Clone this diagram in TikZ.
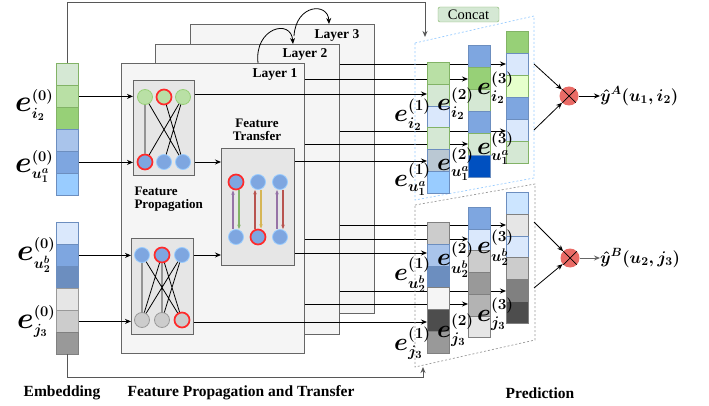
\RequirePackage{fix-cm}
\documentclass[tikz,border=0pt]{standalone}
\usepackage{amsmath}
\usepackage[no-math]{fontspec}
\setmainfont{Liberation Serif}
\usetikzlibrary{arrows.meta,calc}

% palette
\definecolor{gA}{HTML}{D5E8D4}
\definecolor{gB}{HTML}{B9E0A5}
\definecolor{gC}{HTML}{97D077}
\definecolor{gS}{HTML}{82B366}
\definecolor{bA}{HTML}{DAE8FC}
\definecolor{bB}{HTML}{A9C4EB}
\definecolor{bC}{HTML}{7EA6E0}
\definecolor{bD}{HTML}{6C8EBF}
\definecolor{bE}{HTML}{99CCFF}
\definecolor{bF}{HTML}{0050C0}
\definecolor{bG}{HTML}{BAC8D3}
\definecolor{bH}{HTML}{CCE5FF}
\definecolor{yA}{HTML}{E6FFCC}
\definecolor{kA}{HTML}{F5F5F5}
\definecolor{kB}{HTML}{E6E6E6}
\definecolor{kC}{HTML}{CCCCCC}
\definecolor{kD}{HTML}{B3B3B3}
\definecolor{kE}{HTML}{999999}
\definecolor{kF}{HTML}{808080}
\definecolor{kG}{HTML}{4D4D4D}
\definecolor{frame}{HTML}{666666}
\definecolor{multc}{HTML}{EA6B66}
\definecolor{hot}{HTML}{FF2A2A}
\definecolor{tPurple}{HTML}{9673A6}
\definecolor{tGreen}{HTML}{82B366}
\definecolor{tRed}{HTML}{B85450}
\definecolor{tYellow}{HTML}{D6B656}

% a column of six embedding cells: name, left x, top y, cell height, fill/stroke list
\newcommand{\cellstack}[5]{%
  \pgfmathsetmacro{\stackh}{6*#4}%
  \node[inner sep=0, minimum width=22pt, minimum height={\stackh pt}, anchor=north west] (#1) at (#2,#3) {};
  \foreach \fc/\sc [count=\k from 0] in {#5} {
    \node[cell, fill=\fc, draw=\sc, minimum height={#4pt}, anchor=north west] (#1-\k) at (#2,{#3+\k*#4}) {};
  }%
}
% embedding symbol: size of e, script base size, layer index, subscript
% (grouped so the bold math version stays local)
\newcommand{\elab}[4]{{\fontsize{#2}{#2}\selectfont\boldmath$\mbox{\fontsize{#1}{#1}\selectfont$e$}^{(#3)}_{#4}$}}
\newcommand{\boldeq}[1]{{\boldmath$#1$}}

\begin{document}
\begin{tikzpicture}[x=1pt,y=-1pt,
  cell/.style={rectangle, inner sep=0, minimum width=22pt, line width=0.8pt},
  layer/.style={rectangle, draw=frame, fill=kA, line width=0.9pt, inner sep=0, anchor=north west},
  box/.style={rectangle, draw=frame, fill=kB, line width=0.9pt, inner sep=0, anchor=north west},
  nd/.style={circle, inner sep=0, minimum size=15pt, line width=0.8pt},
  ndG/.style={nd, fill=gB, draw=gC},
  ndB/.style={nd, fill=bC, draw=bE},
  ndK/.style={nd, fill=kC, draw=kE},
  hotring/.style={draw=hot, line width=1.7pt},
  arr/.style={-{Stealth[length=6pt,width=5pt]}, line width=0.9pt},
  feed/.style={arr, draw=frame!85!black, line width=1pt},
  tr/.style={-{Stealth[length=4.5pt,width=3.5pt]}, line width=1.2pt},
  lyrtext/.style={font={\fontsize{13.5}{15}\selectfont\bfseries}},
  subtext/.style={font={\fontsize{13}{15}\selectfont\bfseries}},
  captext/.style={font={\fontsize{15.5}{18}\selectfont\bfseries}},
  symb/.style={inner sep=0, anchor=base west},
  mult/.style={circle, fill=multc, minimum size=19pt, inner sep=0,
    path picture={\draw[line width=0.7pt] (path picture bounding box.north west) -- (path picture bounding box.south east)
      (path picture bounding box.north east) -- (path picture bounding box.south west);}}
]
\useasboundingbox (0,0) rectangle (709,406);

% ---------- stacked layers ----------
\node[layer, minimum width=184pt, minimum height=289pt] (L3) at (190,24) {};
\node[layer, minimum width=184pt, minimum height=290pt] (L2) at (155,44) {};
\node[layer, minimum width=183pt, minimum height=290pt] (L1) at (121,63) {};

\node[lyrtext] (t3) at (337,35) {Layer 3};
\node[lyrtext] (t2) at (305,54) {Layer 2};
\node[lyrtext] (t1) at (275,75) {Layer 1};

\coordinate (a1s) at (258,63);
\coordinate (a1e) at (293,44);
\coordinate (a2s) at (294,36);
\coordinate (a2e) at (329,24);
\draw[arr, line width=0.8pt] (a1s) .. controls (254,28) and (291,18) .. (a1e);
\draw[arr, line width=0.8pt] (a2s) .. controls (296,4) and (328,2) .. (a2e);

% ---------- feature propagation (upper) ----------
\node[box, minimum width=61pt, minimum height=95pt] (PA) at (133,80) {};
\node[ndG] (at1) at (145,97) {};
\node[ndG, hotring] (at2) at (164,97) {};
\node[ndG] (at3) at (183,97) {};
\node[ndB, hotring] (ab1) at (145,162) {};
\node[ndB] (ab2) at (164,162) {};
\node[ndB] (ab3) at (183,162) {};
\draw[line width=0.8pt] (at1) -- (ab1) (at1) -- (ab3) (at2) -- (ab3) (at3) -- (ab1) (at3) -- (ab2);

% ---------- feature propagation (lower) ----------
\node[box, minimum width=62pt, minimum height=96pt] (PB) at (131,238) {};
\node[ndB] (bt1) at (142,255) {};
\node[ndB, hotring] (bt2) at (162,255) {};
\node[ndB] (bt3) at (182,255) {};
\node[ndK] (bb1) at (142,320) {};
\node[ndK] (bb2) at (162,320) {};
\node[ndK, hotring] (bb3) at (182,320) {};
\draw[line width=0.8pt] (bt1) -- (bb1) (bt1) -- (bb3) (bt2) -- (bb1) (bt2) -- (bb2) (bt2) -- (bb3)
  (bt3) -- (bb1) (bt3) -- (bb2);

\node[subtext, align=left, anchor=west] (fpl) at (131,199) {Feature\\[-2pt]Propagation};

% ---------- feature transfer ----------
\node[subtext, align=center] (ftl) at (257,130) {Feature\\[-2pt]Transfer};
\node[box, minimum width=73pt, minimum height=117pt] (TB) at (221,148) {};
\node[ndB, hotring] (ct1) at (236,182) {};
\node[ndB] (ct2) at (258,182) {};
\node[ndB] (ct3) at (280,182) {};
\node[ndB] (cb1) at (236,237) {};
\node[ndB, hotring] (cb2) at (258,237) {};
\node[ndB] (cb3) at (280,237) {};
\draw[tr, draw=tPurple, fill=tPurple] ([xshift=-3pt]cb1.north) -- ([xshift=-3pt]ct1.south);
\draw[tr, draw=tGreen, fill=tGreen] ([xshift=3pt]ct1.south) -- ([xshift=3pt]cb1.north);
\draw[tr, draw=tRed, fill=tRed] ([xshift=-3pt]cb2.north) -- ([xshift=-3pt]ct2.south);
\draw[tr, draw=tYellow, fill=tYellow] ([xshift=3pt]ct2.south) -- ([xshift=3pt]cb2.north);
\draw[tr, draw=tPurple, fill=tPurple] ([xshift=-3pt]cb3.north) -- ([xshift=-3pt]ct3.south);
\draw[tr, draw=tRed, fill=tRed] ([xshift=3pt]ct3.south) -- ([xshift=3pt]cb3.north);

% ---------- embedding columns ----------
\cellstack{eA}{56}{63}{22}{gA/gS, gB/gS, gC/gS, bB/bD, bC/bD, bE/bD}
\cellstack{eB}{56}{222}{22}{bA/bD, bC/bD, bD/bD, kB/kE, kC/kE, kE/kF}

\draw[arr] (eA-1.east) -- (PA.west |- eA-1.east);
\draw[arr] (eA-4.east) -- (PA.west |- eA-4.east);
\draw[arr] (eB-1.east) -- (PB.west |- eB-1.east);
\draw[arr] (eB-4.east) -- (PB.west |- eB-4.east);
\draw[arr] (PA.east |- ab3) -- (TB.west |- ab3);
\draw[arr] (PB.east |- bt3) -- (TB.west |- bt3);

% concatenation targets
\coordinate (ctop) at (425,37);
\coordinate (cbot) at (423,367);
\draw[feed] (eA.north) -- ++(0,-60) -| (ctop);
\draw[feed] (eB.south) -- ++(0,23) -| (cbot);

% ---------- prediction columns (x positions for anchoring) ----------
\coordinate (c1x) at (427,0);
\coordinate (c2x) at (468,0);
\coordinate (c3x) at (506,0);

% layer outputs, upper pair
\draw[arr] (L2.east |- 0,64) -- (c3x |- 0,64);
\draw[arr] (L1.east |- 0,79) -- (c2x |- 0,79);
\draw[arr] (PA.east |- 0,94) -- (c1x |- 0,94);
\draw[arr] (L2.east |- 0,131) -- (c3x |- 0,131);
\draw[arr] (L1.east |- 0,144) -- (c2x |- 0,144);
\draw[arr] (TB.east |- 0,161) -- (c1x |- 0,161);
% layer outputs, lower pair
\draw[arr] (L2.east |- 0,225) -- (c3x |- 0,225);
\draw[arr] (L1.east |- 0,239) -- (c2x |- 0,239);
\draw[arr] (TB.east |- 0,253) -- (c1x |- 0,253);
\draw[arr] (L2.east |- 0,291) -- (c3x |- 0,291);
\draw[arr] (L1.east |- 0,304) -- (c2x |- 0,304);
\draw[arr] (PB.east |- 0,322) -- (c1x |- 0,322);

% concat frames
\draw[bE, dashed, dash pattern=on 2pt off 2pt, line width=0.7pt] (415,43) -- (534,16) -- (534,178) -- (415,200) -- cycle;
\draw[kE, dashed, dash pattern=on 2pt off 2pt, line width=0.7pt] (415,205) -- (535,184) -- (535,340) -- (415,367) -- cycle;
\node[draw=gS, fill=gA, rounded corners=2pt, minimum width=61pt, minimum height=15pt, inner sep=0,
  font={\fontsize{14.5}{15}\selectfont}] (concat) at (468.5,14.5) {Concat};

\cellstack{cA}{427}{62}{21.8}{gB/gS, gA/gS, bA/bD, gA/gS, bG/bD, bE/bD}
\cellstack{dA}{468}{45}{22}{bC/bD, gC/gS, gA/gS, bC/bD, gA/gS, bF/bD}
\cellstack{fA}{506}{31}{22}{gC/gS, bA/bD, yA/gS, bC/bD, bA/bD, gA/gS}
\cellstack{cB}{427}{222}{21.8}{kC/kF, bB/bD, bD/bD, kA/kF, kG/kF, kE/kF}
\cellstack{dB}{468}{207}{21.7}{bC/bD, bA/bD, kC/kF, kE/kF, kD/kF, kB/kF}
\cellstack{fB}{506}{192}{21.8}{bH/bD, kB/kF, bA/bD, kC/kF, kF/kF, kG/kF}

% ---------- symbols ----------
\node[symb] (s0a) at (15,112) {\elab{30}{21}{0}{i_2}};
\node[symb] (s0b) at (15,173) {\elab{30}{21}{0}{u_1^a}};
\node[symb] (s0c) at (17,260) {\elab{30}{21}{0}{u_2^b}};
\node[symb] (s0d) at (17,328) {\elab{30}{21}{0}{j_3}};

\node[symb] (s1a) at (394,122) {\elab{25}{22}{1}{i_2}};
\node[symb] (s1b) at (394,186) {\elab{25}{22}{1}{u_1^a}};
\node[symb] (s2a) at (437,111) {\elab{25}{22}{2}{i_2}};
\node[symb] (s2b) at (437,171) {\elab{25}{22}{2}{u_1^a}};
\node[symb] (s3a) at (477,95) {\elab{25}{22}{3}{i_2}};
\node[symb] (s3b) at (477,155) {\elab{25}{22}{3}{u_1^a}};

\node[symb] (s1c) at (394,280) {\elab{25}{22}{1}{u_2^b}};
\node[symb] (s1d) at (394,350) {\elab{25}{22}{1}{j_3}};
\node[symb] (s2c) at (437,265) {\elab{25}{22}{2}{u_2^b}};
\node[symb] (s2d) at (437,337) {\elab{25}{22}{2}{j_3}};
\node[symb] (s3c) at (477,253) {\elab{25}{22}{3}{u_2^b}};
\node[symb] (s3d) at (477,321) {\elab{25}{22}{3}{j_3}};

% ---------- scoring ----------
\node[mult] (mA) at (569,96) {};
\node[mult] (mB) at (570,258) {};
\coordinate (pA1) at (534,64);
\coordinate (pA2) at (534,130);
\coordinate (pB1) at (534,222);
\coordinate (pB2) at (534,288);
\draw[arr, line width=0.8pt] (pA1) -- (mA);
\draw[arr, line width=0.8pt] (pA2) -- (mA);
\draw[arr, line width=0.8pt] (pB1) -- (mB);
\draw[arr, line width=0.8pt] (pB2) -- (mB);
\node[anchor=west, inner sep=0, font={\fontsize{17}{17}\selectfont}] (yA) at (600,96) {\boldeq{\hat{y}^{A}(u_1, i_2)}};
\node[anchor=west, inner sep=0, font={\fontsize{17}{17}\selectfont}] (yB) at (600,258) {\boldeq{\hat{y}^{B}(u_2, j_3)}};
\draw[arr] (mA) -- (yA);
\draw[arr, frame] (mB) -- (yB);

% ---------- captions ----------
\node[captext] (capE) at (62,393) {Embedding};
\node[captext] (capF) at (241,393) {Feature Propagation and Transfer};
\node[captext] (capP) at (540,393) {Prediction};
\end{tikzpicture}
\end{document}
